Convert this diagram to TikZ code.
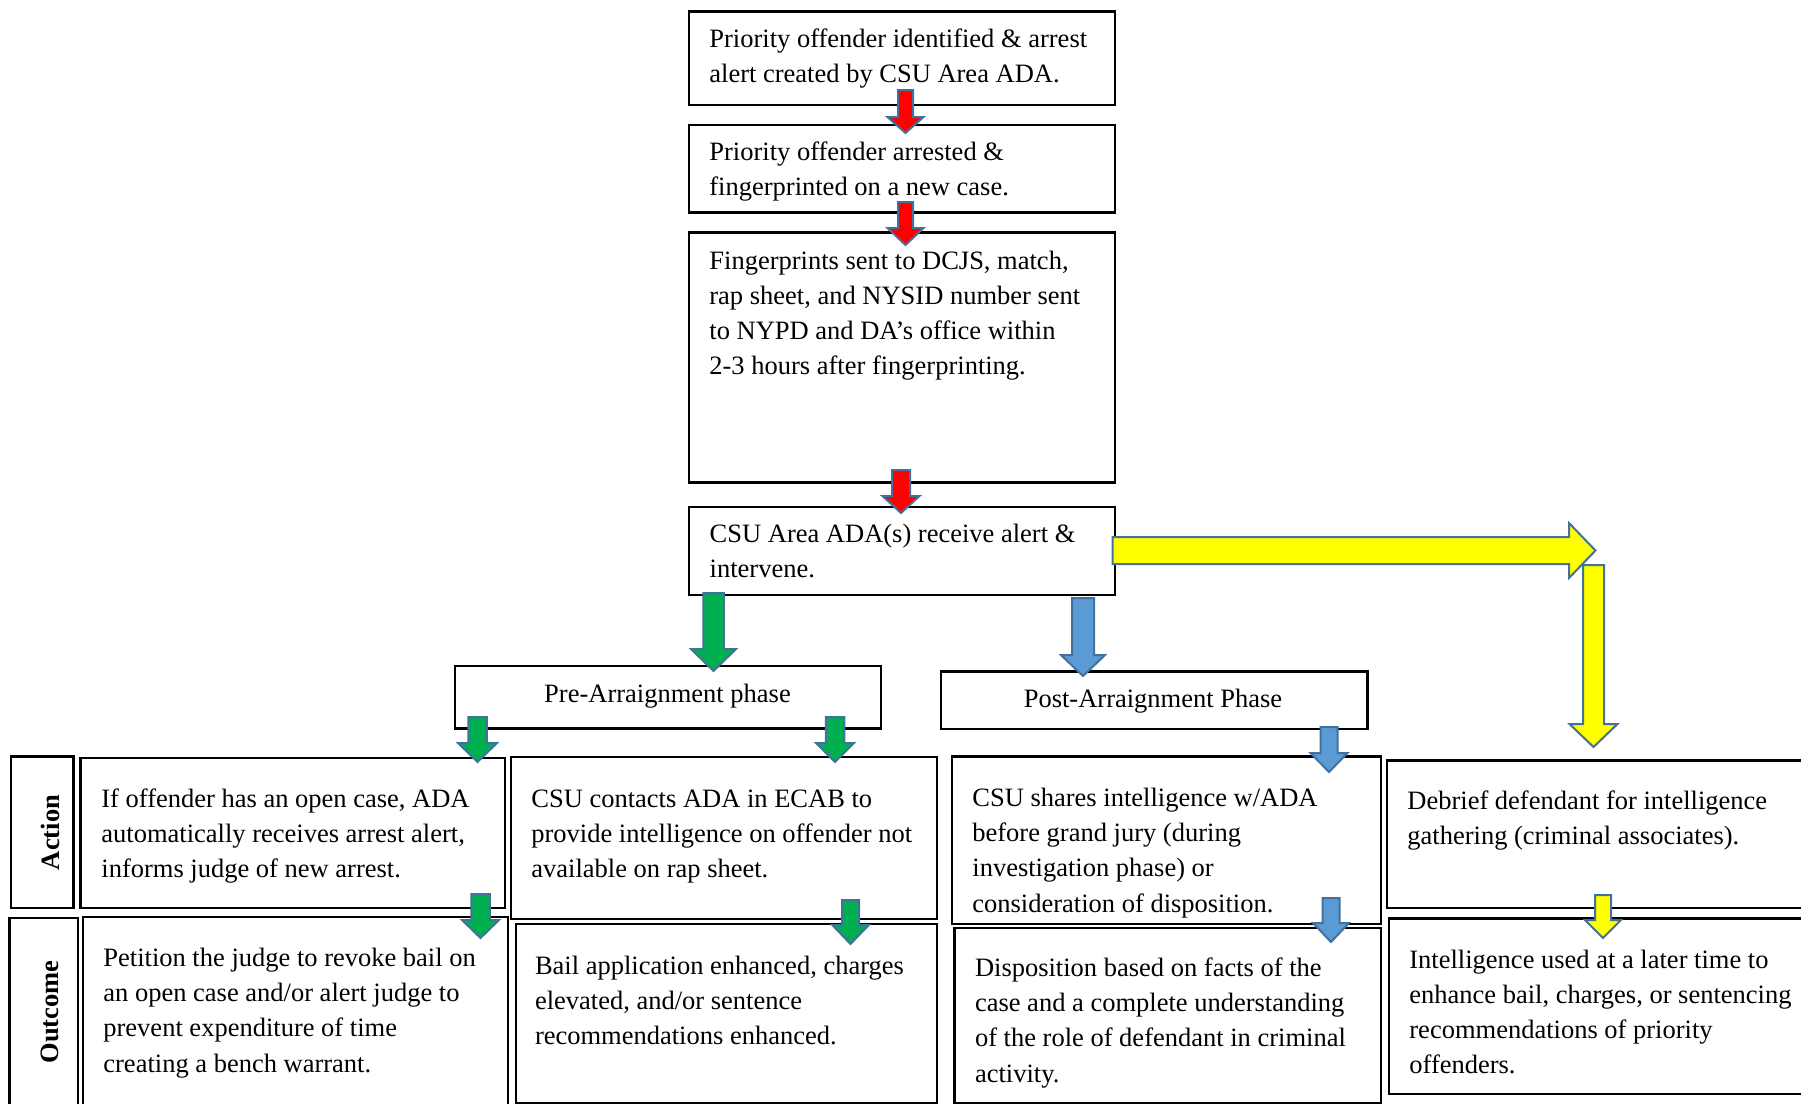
\documentclass[tikz,border=0pt]{standalone}
\usepackage{fontspec}
\setmainfont{Liberation Serif}
\usetikzlibrary{calc}
\definecolor{arrowline}{HTML}{41719C}
\definecolor{redfill}{HTML}{FF0000}
\definecolor{greenfill}{HTML}{00B050}
\definecolor{bluefill}{HTML}{5B9BD5}
\definecolor{yellowfill}{HTML}{FFFF00}
\newcommand{\tl}[1]{\begin{tabular}[t]{@{}l@{}}#1\end{tabular}}
\newcommand{\boxat}[5]{\node[flowbox, minimum width={(#4-#2)*0.5pt}, minimum height={(#5-#3)*0.5pt}] (#1) at (#2,#3) {};}
% style, x centre, top, tip, shaft width, head width, head length
\newcommand{\dnarrow}[7]{%
  \draw[blockarrow,#1] ({#2-#5/2},#3) -- ({#2+#5/2},#3) -- ({#2+#5/2},{#4-#7}) -- ({#2+#6/2},{#4-#7}) -- (#2,#4) -- ({#2-#6/2},{#4-#7}) -- ({#2-#5/2},{#4-#7}) -- cycle;}
\begin{document}
\begin{tikzpicture}[x=0.5pt,y=-0.5pt,
  flowbox/.style={draw=black, line width=1.2pt, fill=white, inner sep=0pt, outer sep=0pt, anchor=north west},
  txt/.style={inner sep=0pt, anchor=base west, yshift=-0.75pt, font=\fontsize{13.25}{17.6}\selectfont},
  lbl/.style={inner sep=0pt, rotate=90, font=\fontsize{13.25}{17.6}\selectfont\bfseries},
  ctxt/.style={inner sep=0pt, anchor=base, yshift=-0.5pt, font=\fontsize{13.25}{17.6}\selectfont},
  blockarrow/.style={draw=arrowline, line width=1pt, line join=miter},
  redA/.style={fill=redfill},
  greenA/.style={fill=greenfill},
  blueA/.style={fill=bluefill},
  yellowA/.style={fill=yellowfill}]
\useasboundingbox (0,0) rectangle (1801,1104);
\fill[white] (0,0) rectangle (1801,1104);
\clip (0,0) rectangle (1801,1104);

% boxes
\boxat{b1}{689}{11.5}{1115}{105}
\boxat{b2}{689}{125}{1115}{212.5}
\boxat{b3}{689}{232.5}{1115}{482.5}
\boxat{b4}{689}{507}{1115}{595}
\boxat{pre}{455}{666}{881}{728.5}
\boxat{post}{941}{671.5}{1367.5}{729}
\boxat{actl}{11}{756.5}{73.5}{908}
\boxat{outl}{9.5}{918}{78}{1120}
\boxat{a1}{80.5}{758}{505}{908}
\boxat{a2}{511}{757}{937}{919}
\boxat{a3}{952}{756.5}{1381}{924}
\boxat{a4}{1387}{760.5}{1815}{908}
\boxat{o1}{83}{917}{508}{1120}
\boxat{o2}{516}{924}{937}{1103}
\boxat{o3}{954.5}{928}{1381}{1103}
\boxat{o4}{1389}{918.3}{1815}{1094}

% texts
\node[txt] (t1) at (709,45.7) {\tl{Priority offender identified \& arrest\\alert created by CSU Area ADA.}};
\node[txt] (t2) at (709,158.5) {\tl{Priority offender arrested \&\\fingerprinted on a new case.}};
\node[txt] (t3) at (709,267.5) {\tl{Fingerprints sent to DCJS, match,\\rap sheet, and NYSID number sent\\to NYPD and DA’s office within\\2-3 hours after fingerprinting.}};
\node[txt] (t4) at (709.3,541) {\tl{CSU Area ADA(s) receive alert \&\\intervene.}};
\node[ctxt] (tpre) at (667.5,701.5) {Pre-Arraignment phase};
\node[ctxt] (tpost) at (1153,706.5) {Post-Arraignment Phase};
\node[lbl] (tact) at (50.5,832.5) {Action};
\node[lbl] (tout) at (49.5,1012) {Outcome};
\node[txt] (ta1) at (101,806) {\tl{If offender has an open case, ADA\\automatically receives arrest alert,\\informs judge of new arrest.}};
\node[txt] (ta2) at (531,805.5) {\tl{CSU contacts ADA in ECAB to\\provide intelligence on offender not\\available on rap sheet.}};
\node[txt] (ta3) at (972,805) {\tl{CSU shares intelligence w/ADA\\before grand jury (during\\investigation phase) or\\consideration of disposition.}};
\node[txt] (ta4) at (1407,808) {\tl{Debrief defendant for intelligence\\gathering (criminal associates).}};
\node[txt] (to1) at (103,965) {\tl{Petition the judge to revoke bail on\\an open case and/or alert judge to\\prevent expenditure of time\\creating a bench warrant.}};
\node[txt] (to2) at (534.6,972.5) {\tl{Bail application enhanced, charges\\elevated, and/or sentence\\recommendations enhanced.}};
\node[txt] (to3) at (974.6,975) {\tl{Disposition based on facts of the\\case and a complete understanding\\of the role of defendant in criminal\\activity.}};
\node[txt] (to4) at (1409,966.7) {\tl{Intelligence used at a later time to\\enhance bail, charges, or sentencing\\recommendations of priority\\offenders.}};

% block arrows
\dnarrow{redA}{905.5}{90}{133}{15}{36}{16}
\dnarrow{redA}{905.5}{202}{245}{15}{36}{17}
\dnarrow{redA}{901}{470}{513}{18}{37}{17}
\dnarrow{greenA}{713.5}{593}{671}{20.5}{45}{22}
\dnarrow{blueA}{1083}{598}{676}{22}{44}{21}
\dnarrow{greenA}{477.5}{717}{762}{18.5}{39}{19}
\dnarrow{greenA}{835}{717}{762}{18.5}{38}{19}
\dnarrow{blueA}{1329}{727}{772}{17}{37}{19}
\dnarrow{greenA}{480.5}{894}{938}{18.5}{37}{18}
\dnarrow{greenA}{850.5}{900}{944}{17}{36.5}{19}
\dnarrow{blueA}{1331}{898}{942}{17}{36}{19}
\dnarrow{yellowA}{1603}{895}{938}{16}{36}{18}
\dnarrow{yellowA}{1593.5}{565}{747}{21}{48}{23}
\draw[blockarrow,yellowA] (1112.5,537) -- (1569,537) -- (1569,523) -- (1595.5,550.5) -- (1569,578) -- (1569,564) -- (1112.5,564) -- cycle;
\end{tikzpicture}
\end{document}
